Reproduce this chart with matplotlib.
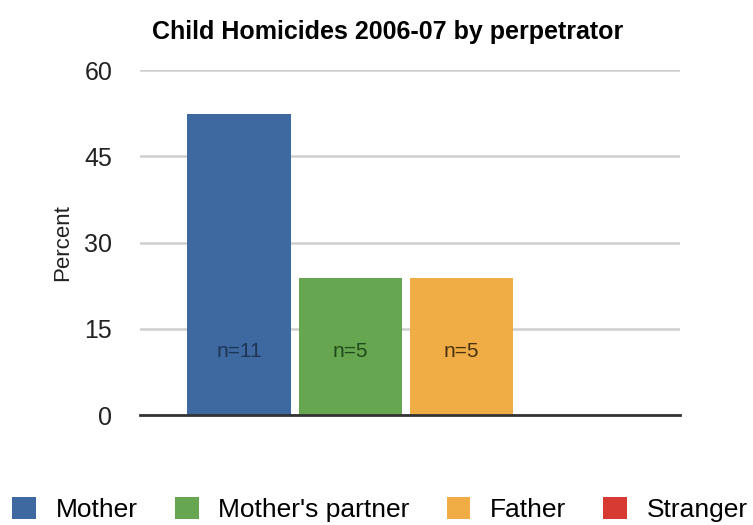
import matplotlib
matplotlib.use("Agg")
import matplotlib.pyplot as plt
from matplotlib.patches import Patch

# data
categories = ["Mother", "Mother's partner", "Father", "Stranger"]
counts = [11, 5, 5, 0]
total = sum(counts)
percent = [c / total * 100 for c in counts]
bar_labels = ["n=11", "n=5", "n=5", ""]
yticks = [0, 15, 30, 45, 60]

colors = ["#3d69a0", "#67a650", "#f0ac45", "#d63a32"]
text_colors = ["#1e3553", "#1f4a1a", "#4a3210", "#000000"]

plt.rcParams["font.family"] = ["Liberation Sans", "DejaVu Sans"]

fig = plt.figure(figsize=(7.53, 5.25), dpi=100)
ax = fig.add_axes([0.186, 0.2095, 0.717, 0.657])

xs = range(len(categories))
ax.bar(xs, percent, width=0.93, color=colors, zorder=3)
for x, lab, tc in zip(xs, bar_labels, text_colors):
    if lab:
        ax.text(x, 11, lab, ha="center", va="center", fontsize=15,
                color=tc, zorder=4)

ax.set_xlim(-0.892, 3.97)
ax.set_ylim(0, 60)
ax.set_yticks(yticks)
ax.set_yticklabels([str(t) for t in yticks], fontsize=18, color="#222222")
ax.set_xticks([])
ax.tick_params(axis="y", length=0, pad=20)
ax.grid(axis="y", color="#cfcfcf", linewidth=1.8, zorder=0)
for s in ["left", "right", "top"]:
    ax.spines[s].set_visible(False)
ax.spines["bottom"].set_color("#333333")
ax.spines["bottom"].set_linewidth(2)
ax.spines["bottom"].set_zorder(5)
ax.set_ylabel("Percent", fontsize=16, color="#222222", labelpad=8)

fig.text(0.515, 0.939, "Child Homicides 2006-07 by perpetrator",
         ha="center", va="center", fontsize=18, fontweight="bold")

handles = [Patch(facecolor=c, label=l) for c, l in zip(colors, categories)]
fig.legend(handles=handles, loc="center", bbox_to_anchor=(0.505, 0.03),
           ncol=4, frameon=False, fontsize=19, handlelength=0.9,
           handleheight=0.9, handletextpad=0.75, columnspacing=1.4,
           borderpad=0, borderaxespad=0)

fig.savefig("out.png", dpi=100)
